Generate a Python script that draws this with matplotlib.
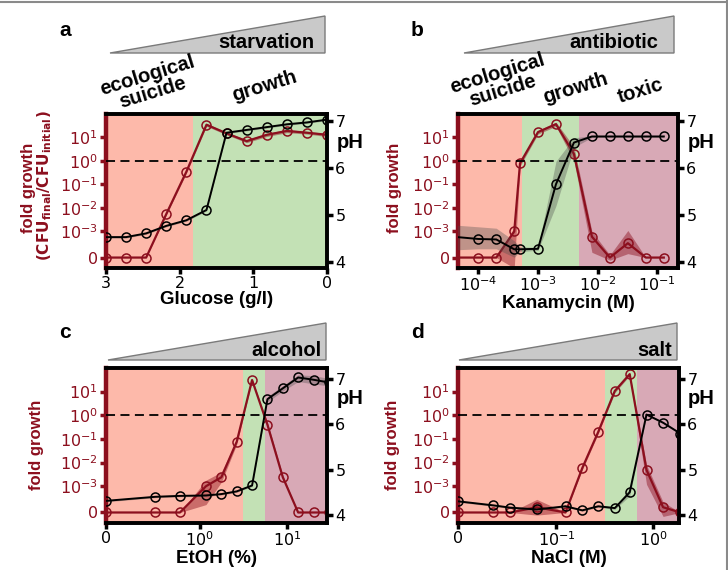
import numpy as np
import matplotlib
matplotlib.use("Agg")
import matplotlib.pyplot as plt
from matplotlib.patches import Polygon
from matplotlib.lines import Line2D

W, H = 728, 570
DARKRED = "#8c0f1e"
BG = {"red": "#fdb9aa", "green": "#c3e1b5", "purple": "#d8a9b6"}
BOLD = dict(family="Liberation Sans", weight="bold")

# ---- panel a: glucose (starvation)
glu_x = [3.0, 2.727, 2.455, 2.182, 1.909, 1.636, 1.364, 1.091, 0.818, 0.545, 0.273, 0.0]
glu_fold = [0, 0, 0, 5.5e-3, 0.35, 35, 15, 7, 13, 19, 16, 13]
glu_fold_lo = [0, 0, 0, 5e-3, 0.3, 30, 13, 6, 11, 16, 14, 11]
glu_fold_hi = [0, 0, 0, 6e-3, 0.4, 40, 17, 8, 15, 22, 18, 15]
glu_ph = [4.53, 4.53, 4.61, 4.77, 4.89, 5.11, 6.76, 6.82, 6.88, 6.94, 6.98, 7.04]
glu_ph_lo = [4.51, 4.51, 4.59, 4.75, 4.87, 5.09, 6.74, 6.80, 6.86, 6.92, 6.96, 7.02]
glu_ph_hi = [4.55, 4.55, 4.63, 4.79, 4.91, 5.13, 6.78, 6.84, 6.90, 6.96, 7.00, 7.06]
glu_regions = [("red", 3.0, 1.82), ("green", 1.82, 0.0)]

# ---- panel b: kanamycin (antibiotic)
kan_x = [3e-5, 1e-4, 2e-4, 4e-4, 5e-4, 1e-3, 2e-3, 4e-3, 8e-3, 1.6e-2, 3.2e-2, 6.4e-2, 0.128]
kan_fold = [0, 0, 0, 1e-3, 0.8, 17, 37, 2.0, 8e-4, 0, 5.5e-4, 0, 0]
kan_fold_lo = [0, 0, 0, -4e-4, 0.6, 14, 30, 1.0, 2e-4, -1e-4, 1.5e-4, 0, 0]
kan_fold_hi = [0, 0, 0, 1.5e-3, 1.0, 20, 45, 4.0, 1e-3, 1e-4, 1.1e-3, 0, 0]
kan_ph = [4.55, 4.49, 4.48, 4.27, 4.27, 4.28, 5.66, 6.55, 6.68, 6.68, 6.68, 6.68, 6.68]
kan_ph_lo = [4.25, 4.28, 4.28, 4.10, 4.22, 4.25, 5.20, 6.45, 6.66, 6.66, 6.66, 6.66, 6.66]
kan_ph_hi = [4.80, 4.75, 4.72, 4.45, 4.32, 4.31, 6.15, 6.65, 6.70, 6.70, 6.70, 6.70, 6.70]
kan_regions = [("red", 1e-5, 5.3e-4), ("green", 5.3e-4, 4.8e-3), ("purple", 4.8e-3, 1.0)]

# ---- panel c: ethanol (alcohol)
eth_x = [0, 0.527, 0.79, 1.185, 1.78, 2.67, 4.0, 6.0, 9.0, 13.5, 20.25, 30.4]
eth_fold = [0, 0, 0, 1e-3, 2.4e-3, 0.077, 31, 0.4, 2.4e-3, 0, 0, 0]
eth_fold_lo = [0, 0, 0, 3e-4, 1.5e-3, 0.06, 27, 0.35, 2e-3, 0, 0, 0]
eth_fold_hi = [0, 0, 0, 1.8e-3, 4e-3, 0.09, 36, 0.5, 3e-3, 0, 0, 0]
eth_ph = [4.31, 4.40, 4.42, 4.43, 4.46, 4.52, 4.65, 6.56, 6.80, 7.04, 6.99, 6.93]
eth_ph_lo = [4.29, 4.38, 4.40, 4.41, 4.44, 4.50, 4.63, 6.50, 6.74, 6.95, 6.90, 6.85]
eth_ph_hi = [4.33, 4.42, 4.44, 4.45, 4.48, 4.54, 4.67, 6.62, 6.86, 7.10, 7.08, 7.02]
eth_regions = [("red", 0, 3.14), ("green", 3.14, 5.66), ("purple", 5.66, 100)]

# ---- panel d: NaCl (salt)
nacl_x = [0, 0.036, 0.053, 0.080, 0.124, 0.185, 0.27, 0.40, 0.57, 0.85, 1.26, 1.9]
nacl_fold = [0, 0, 0, 2e-4, 0, 6e-3, 0.2, 10.7, 55, 4.9e-3, 2e-4, 0]
nacl_fold_lo = [0, 0, 0, -1e-4, 0, 5e-3, 0.17, 9, 48, 1.2e-3, -1.5e-4, 0]
nacl_fold_hi = [0, 0, 0, 5e-4, 0, 7e-3, 0.23, 12.5, 62, 8e-3, 4e-4, 0]
nacl_ph = [4.30, 4.21, 4.16, 4.12, 4.19, 4.10, 4.19, 4.15, 4.50, 6.22, 6.04, 5.80]
nacl_ph_lo = [4.28, 4.19, 4.14, 4.10, 4.17, 4.08, 4.17, 4.12, 4.42, 6.20, 6.02, 5.78]
nacl_ph_hi = [4.32, 4.23, 4.18, 4.14, 4.21, 4.12, 4.21, 4.18, 4.58, 6.24, 6.06, 5.82]
nacl_regions = [("red", 0, 0.32), ("green", 0.32, 0.67), ("purple", 0.67, 10)]

fold_ticks = [0, 1e-3, 1e-2, 1e-1, 1, 10]
fold_labels = ["0", r"$10^{-3}$", r"$10^{-2}$", r"$10^{-1}$", r"$10^{0}$", r"$10^{1}$"]
ph_ticks = [4, 5, 6, 7]


def fx(px):
    return px / W


def fy(py):
    return 1 - py / H


def panel(fig, box, x, fold, fold_lo, fold_hi, ph, ph_lo, ph_hi, regions, phlim):
    l, t, r, b = box
    ax = fig.add_axes([fx(l), fy(b), (r - l) / W, (b - t) / H])
    for name, x0, x1 in regions:
        ax.axvspan(x0, x1, color=BG[name], lw=0, zorder=0)
    ax.set_yscale("symlog", linthresh=1e-3, linscale=1)
    ax.fill_between(x, fold_lo, fold_hi, color=DARKRED, alpha=0.45, lw=0, zorder=2)
    ax.plot(x, fold, color=DARKRED, lw=1.6, marker="o", ms=6.5, mfc="none",
            mec=DARKRED, mew=1.1, zorder=3)
    ax.axhline(1, color="k", ls="--", lw=1.3, dashes=(5, 3), zorder=4)
    ax.set_ylim(-4e-4, 100)
    ax.set_yticks(fold_ticks)
    ax.set_yticklabels(fold_labels)
    ax.yaxis.set_minor_locator(plt.NullLocator())
    ax.tick_params(axis="y", colors=DARKRED, labelcolor=DARKRED, length=4, width=2.5,
                   labelsize=11.5, pad=2)
    ax.tick_params(axis="x", colors="k", length=4, width=2.5, labelsize=11.5, pad=1.5)

    ax2 = ax.twinx()
    ax2.fill_between(x, ph_lo, ph_hi, color="0.3", alpha=0.35, lw=0, zorder=2)
    ax2.plot(x, ph, color="k", lw=1.4, marker="o", ms=6.5, mfc="none", mec="k",
             mew=1.1, zorder=3)
    ax2.set_ylim(*phlim)
    ax2.set_yticks(ph_ticks)
    ax2.tick_params(axis="y", length=4, width=2.5, labelsize=11.5, pad=2)

    for s in ["top", "bottom", "right"]:
        ax.spines[s].set_linewidth(2.6)
        ax2.spines[s].set_linewidth(2.6)
    ax.spines["left"].set_color(DARKRED)
    ax.spines["left"].set_linewidth(3.2)
    ax2.spines["left"].set_visible(False)
    return ax, ax2


def wedge(fig, left, right, top, base, label, label_x, label_y):
    tri = Polygon([[fx(left), fy(base)], [fx(right), fy(top)], [fx(right), fy(base)]],
                  closed=True, transform=fig.transFigure, facecolor="#c9c9c9",
                  edgecolor="#7a7a7a", lw=1.0)
    fig.patches.append(tri)
    fig.text(fx(label_x), fy(label_y), label, ha="right", va="center", fontsize=14.5, **BOLD)


fig = plt.figure(figsize=(W / 100, H / 100), dpi=100)

# panel a
ax, ax2 = panel(fig, (106, 114, 327, 268), glu_x, glu_fold, glu_fold_lo, glu_fold_hi,
                glu_ph, glu_ph_lo, glu_ph_hi, glu_regions, (3.87, 7.16))
ax.set_xlim(3, 0)
ax.set_xticks([3, 2, 1, 0])
ax.set_xlabel("Glucose (g/l)", fontsize=13.5, labelpad=0.5, **BOLD)

# panel b
ax, ax2 = panel(fig, (458, 114, 678, 268), kan_x, kan_fold, kan_fold_lo, kan_fold_hi,
                kan_ph, kan_ph_lo, kan_ph_hi, kan_regions, (3.87, 7.16))
ax.set_xscale("log")
ax.set_xlim(10 ** -4.34, 10 ** -0.655)
ax.set_xticks([1e-4, 1e-3, 1e-2, 1e-1])
ax.xaxis.set_minor_locator(plt.NullLocator())
ax.set_xlabel("Kanamycin (M)", fontsize=13.5, labelpad=0.5, **BOLD)

# panel c
ax, ax2 = panel(fig, (106, 368, 327, 523), eth_x, eth_fold, eth_fold_lo, eth_fold_hi,
                eth_ph, eth_ph_lo, eth_ph_hi, eth_regions, (3.82, 7.25))
ax.set_xscale("symlog", linthresh=1, linscale=0.965)
ax.set_xlim(0, 28.9)
ax.set_xticks([0, 1, 10])
ax.set_xticklabels(["0", r"$10^{0}$", r"$10^{1}$"])
ax.xaxis.set_minor_locator(plt.NullLocator())
ax.set_xlabel("EtOH (%)", fontsize=13.5, labelpad=0.5, **BOLD)

# panel d
ax, ax2 = panel(fig, (458, 368, 679, 523), nacl_x, nacl_fold, nacl_fold_lo, nacl_fold_hi,
                nacl_ph, nacl_ph_lo, nacl_ph_hi, nacl_regions, (3.82, 7.25))
ax.set_xscale("symlog", linthresh=0.1, linscale=0.915)
ax.set_xlim(0, 1.84)
ax.set_xticks([0, 0.1, 1])
ax.set_xticklabels(["0", r"$10^{-1}$", r"$10^{0}$"])
ax.xaxis.set_minor_locator(plt.NullLocator())
ax.set_xlabel("NaCl (M)", fontsize=13.5, labelpad=0.5, **BOLD)

# wedges above the panels
wedge(fig, 110, 325, 16, 53, "starvation", 314, 43)
wedge(fig, 464, 674, 16, 53, "antibiotic", 658, 43)
wedge(fig, 108, 326, 323, 360, "alcohol", 321, 350)
wedge(fig, 459, 677, 323, 360, "salt", 672, 350)

# regime labels
fig.text(fx(150), fy(84), "ecological\nsuicide", rotation=17, ha="center", va="center",
         fontsize=14.5, linespacing=0.9, **BOLD)
fig.text(fx(264), fy(86), "growth", rotation=17, ha="center", va="center", fontsize=14.5, **BOLD)
fig.text(fx(500), fy(82), "ecological\nsuicide", rotation=17, ha="center", va="center",
         fontsize=14.5, linespacing=0.9, **BOLD)
fig.text(fx(575), fy(88), "growth", rotation=17, ha="center", va="center", fontsize=14.5, **BOLD)
fig.text(fx(640), fy(91), "toxic", rotation=17, ha="center", va="center", fontsize=14.5, **BOLD)

# panel letters
for letter, px, py in [("a", 65, 30), ("b", 417, 30), ("c", 65, 332), ("d", 417, 332)]:
    fig.text(fx(px), fy(py), letter, ha="center", va="center", fontsize=15, **BOLD)

# axis titles
for px, py in [(337, 143), (688, 143), (337, 398), (688, 398)]:
    fig.text(fx(px), fy(py), "pH", ha="left", va="center", fontsize=14.5, **BOLD)
fig.text(fx(28), fy(188), "fold growth", rotation=90, ha="center", va="center",
         color=DARKRED, fontsize=12, **BOLD)
fig.text(fx(45), fy(186), r"$\mathbf{(CFU_{\mathbf{final}}/CFU_{\mathbf{initial}})}$",
         rotation=90, ha="center", va="center", color=DARKRED, fontsize=11)
for px, py in [(394, 188), (37, 445), (393, 445)]:
    fig.text(fx(px), fy(py), "fold growth", rotation=90, ha="center", va="center",
             color=DARKRED, fontsize=12, **BOLD)

# grey frame
fig.lines.append(Line2D([0, 1], [fy(2), fy(2)], transform=fig.transFigure, color="#8a8a8a", lw=1.5))
fig.lines.append(Line2D([fx(726.5), fx(726.5)], [0, 1], transform=fig.transFigure, color="#8a8a8a", lw=1.5))

fig.savefig("out.png", dpi=100)
